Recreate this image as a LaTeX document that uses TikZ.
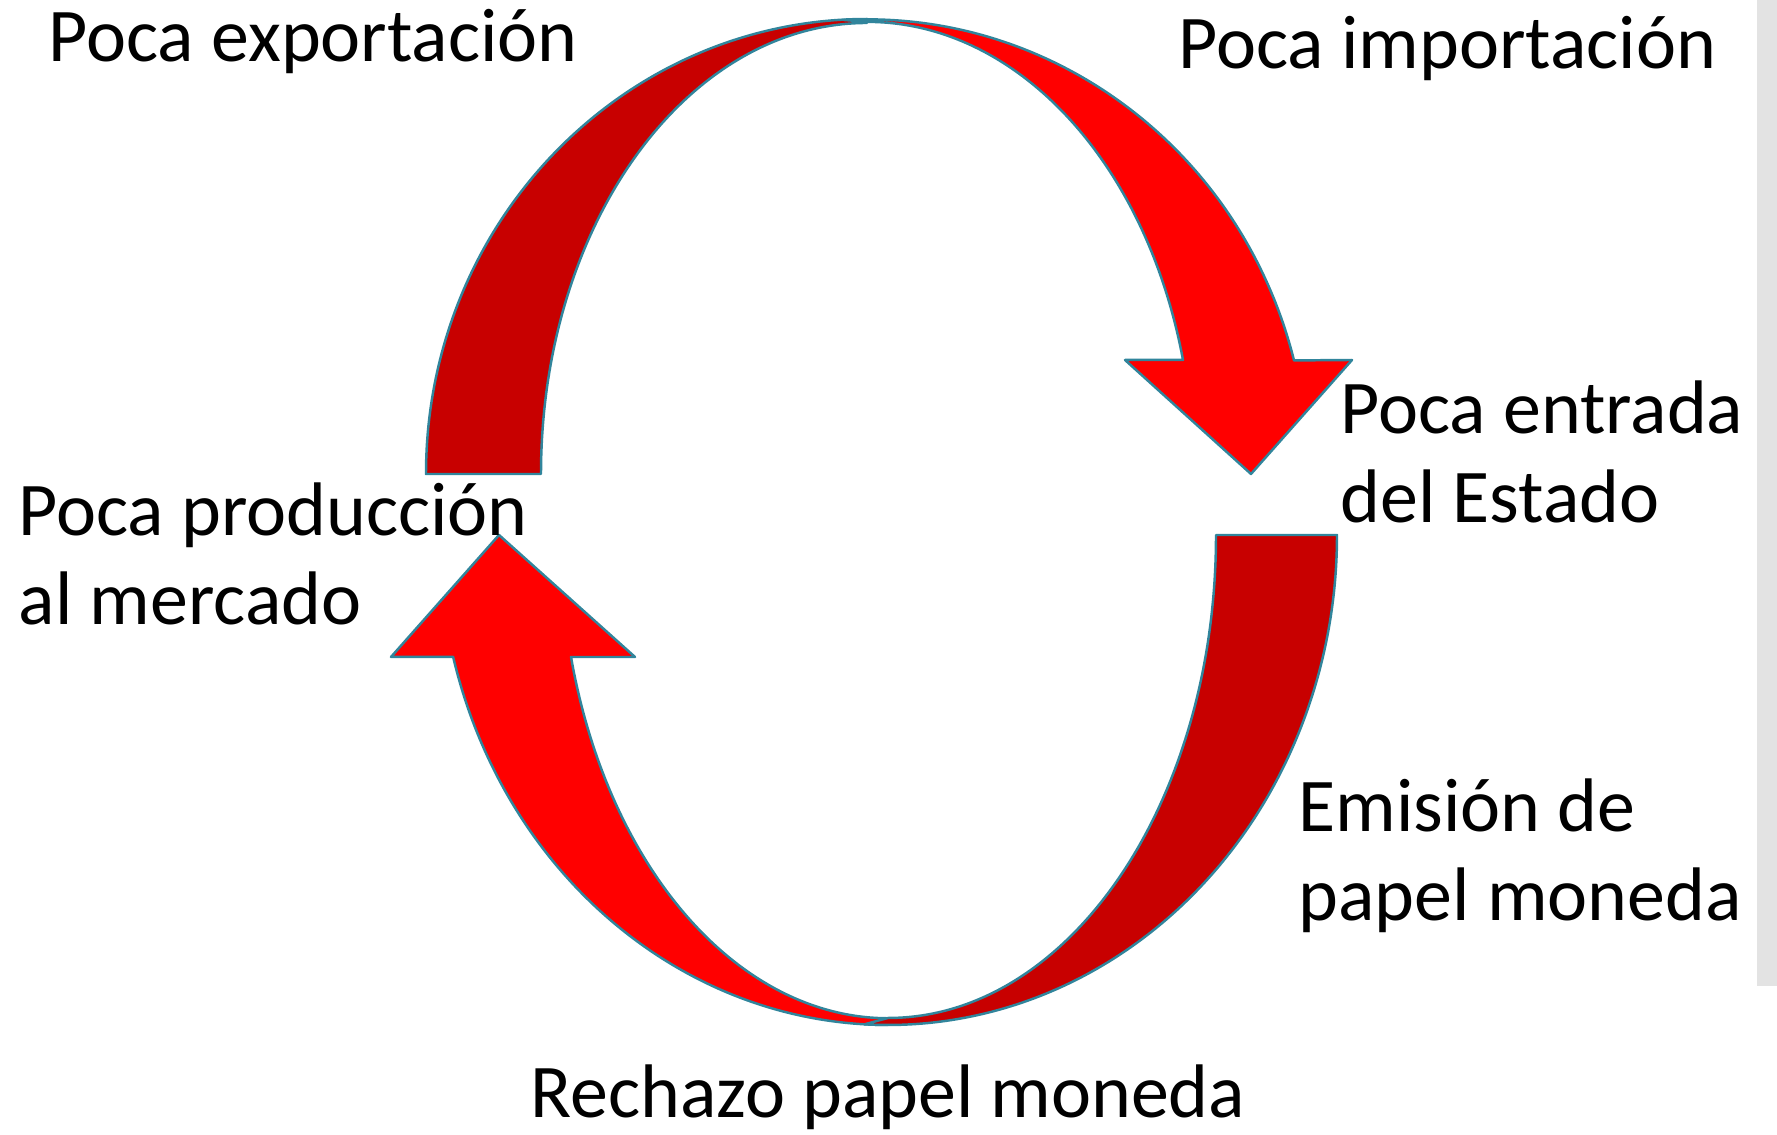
\documentclass[tikz,border=0pt]{standalone}
\usepackage{fontspec}
\setmainfont{Carlito}
\definecolor{arcdark}{RGB}{200,0,0}
\definecolor{arcbright}{RGB}{255,0,0}
\definecolor{arcline}{RGB}{49,133,156}
\definecolor{sidebar}{RGB}{227,227,227}
\begin{document}
\begin{tikzpicture}[
	band/.style={draw=arcline, line width=0.7pt, line join=round},
	lbl/.style={anchor=base west, inner sep=0pt, align=left, font=\fontsize{21.6}{25.5}\selectfont}]
		\useasboundingbox (0, 0) rectangle (17.77, 11.35);
		\fill[sidebar] (17.57, 1.49) rectangle (17.77, 11.35);

		\draw[band, fill=arcdark] (4.26, 6.61) arc[start angle=180, end angle=90, x radius=4.41, y radius=4.55]
			-- (8.67, 11.12) arc[start angle=90, end angle=180, x radius=3.26, y radius=4.51] -- cycle;
		\draw[band, fill=arcbright] (8.44, 11.15) arc[start angle=93, end angle=14.5, x radius=4.41, y radius=4.55]
			-- (13.52, 7.75) -- (12.51, 6.61) -- (11.25, 7.75)
			-- (11.83, 7.75) arc[start angle=14.5, end angle=90, x radius=3.26, y radius=4.51] -- cycle;
		\draw[band, fill=arcbright] (8.88, 1.10) arc[start angle=270, end angle=194.4, x radius=4.49, y radius=4.90]
			-- (3.91, 4.78) -- (4.99, 6.00) -- (6.35, 4.78)
			-- (5.71, 4.78) arc[start angle=194.6, end angle=270, x radius=3.28, y radius=4.83] -- cycle;
		\draw[band, fill=arcdark] (13.37, 6.00) arc[start angle=0, end angle=-93, x radius=4.49, y radius=4.90]
			-- (8.88, 1.17) arc[start angle=-90, end angle=0, x radius=3.28, y radius=4.83] -- cycle;

		\node[lbl] (export) at (0.48, 10.73) {Poca exportación};
		\node[lbl] (import) at (11.78, 10.66) {Poca importación};
		\node[lbl] (entrada) at (13.40, 6.12) {Poca entrada\\del Estado};
		\node[lbl] (produccion) at (0.18, 5.10) {Poca producción\\al mercado};
		\node[lbl] (emision) at (12.98, 2.14) {Emisión de\\papel moneda};
		\node[lbl] (rechazo) at (5.30, 0.17) {Rechazo papel moneda};
	\end{tikzpicture}
\end{document}
